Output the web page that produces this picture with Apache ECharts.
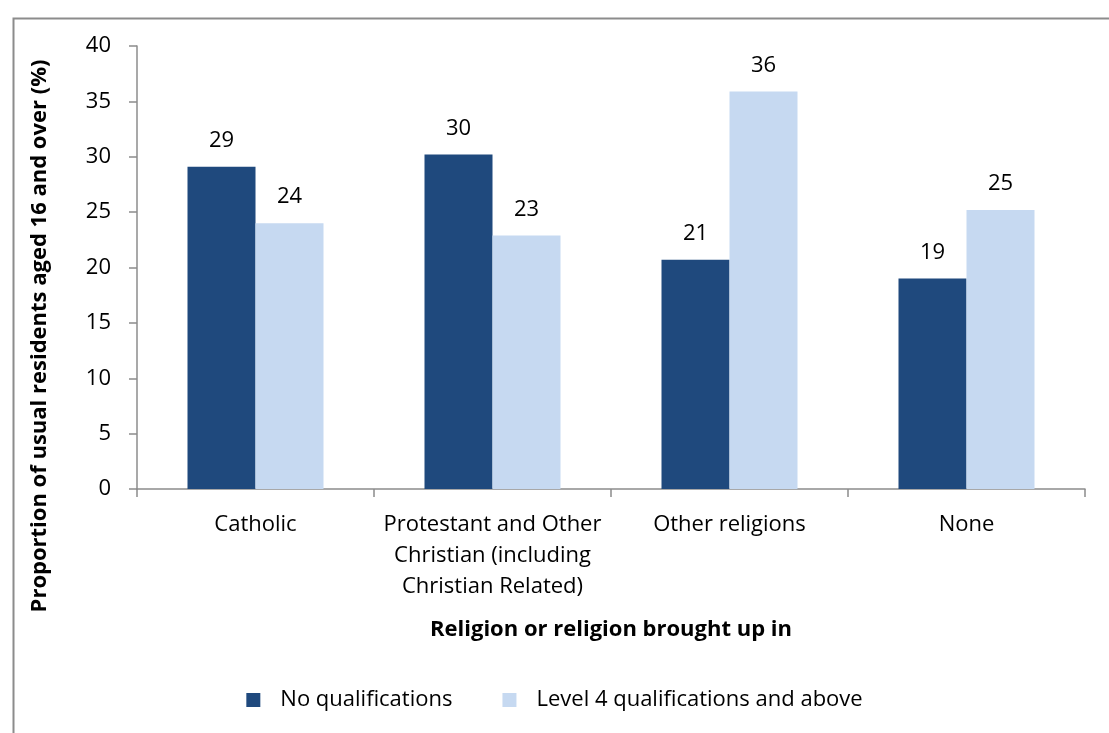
<!DOCTYPE html>
<html><head><meta charset="utf-8">
<script src="https://cdn.jsdelivr.net/npm/echarts@6/dist/echarts.min.js"></script>
<style>html,body{margin:0;padding:0;background:#fff}#c{width:1109px;height:733px}</style>
</head><body><div id="c"></div>
<script>
const categories = ['Catholic', 'Protestant and Other\nChristian (including\nChristian Related)', 'Other religions', 'None'];
const noQualifications = [29.1, 30.2, 20.7, 19.0];
const level4 = [24.0, 22.9, 35.9, 25.2];
const seriesNames = ['No qualifications', 'Level 4 qualifications and above'];
const FONT = '"Open Sans", sans-serif';

const chart = echarts.init(document.getElementById('c'), null, {renderer: 'canvas'});
const labelCfg = {
  show: true, position: 'top', distance: 15, color: '#000', fontSize: 22, fontFamily: FONT,
  formatter: p => Math.round(p.value)
};
chart.setOption({
  animation: false,
  textStyle: {fontFamily: FONT},
  grid: {left: 137, right: 24, top: 46, bottom: 244, containLabel: false},
  graphic: [
    {type: 'rect', left: 11, top: 16, shape: {width: 1200, height: 800}, style: {fill: 'none', stroke: '#8c8c8c', lineWidth: 2}, silent: true},
    {type: 'text', x: 40, y: 336, rotation: Math.PI / 2,
     style: {text: 'Proportion of usual residents aged 16 and over (%)', fontSize: 22, fontWeight: 'bold', fontFamily: FONT, fill: '#000', align: 'center', verticalAlign: 'middle'}}
  ],
  legend: {
    bottom: 17, left: 'center', itemWidth: 14, itemHeight: 14, itemGap: 50,
    icon: 'rect',
    textStyle: {fontSize: 22, color: '#000', fontFamily: FONT, padding: [0, 0, 0, 15]},
    data: seriesNames
  },
  xAxis: {
    type: 'category', data: categories,
    axisLine: {lineStyle: {color: '#8c8c8c', width: 1.5}},
    axisTick: {show: true, length: 8, lineStyle: {color: '#8c8c8c', width: 1.5}},
    axisLabel: {interval: 0, fontSize: 22, color: '#000', fontFamily: FONT, margin: 20, lineHeight: 31},
    name: 'Religion or religion brought up in', nameLocation: 'middle', nameGap: 130,
    nameTextStyle: {fontSize: 22, fontWeight: 'bold', color: '#000', fontFamily: FONT}
  },
  yAxis: {
    type: 'value', min: 0, max: 40, interval: 5,
    axisLine: {show: true, lineStyle: {color: '#8c8c8c', width: 1.5}},
    axisTick: {show: true, length: 8, lineStyle: {color: '#8c8c8c', width: 1.5}},
    splitLine: {show: false},
    axisLabel: {fontSize: 22, color: '#000', fontFamily: FONT, margin: 26}
  },
  series: [
    {name: seriesNames[0], type: 'bar', data: noQualifications, itemStyle: {color: '#1F497D'}, barWidth: 68, barGap: '0%', label: labelCfg},
    {name: seriesNames[1], type: 'bar', data: level4, itemStyle: {color: '#C6D9F1'}, barWidth: 68, barGap: '0%', label: labelCfg}
  ]
});
</script></body></html>
